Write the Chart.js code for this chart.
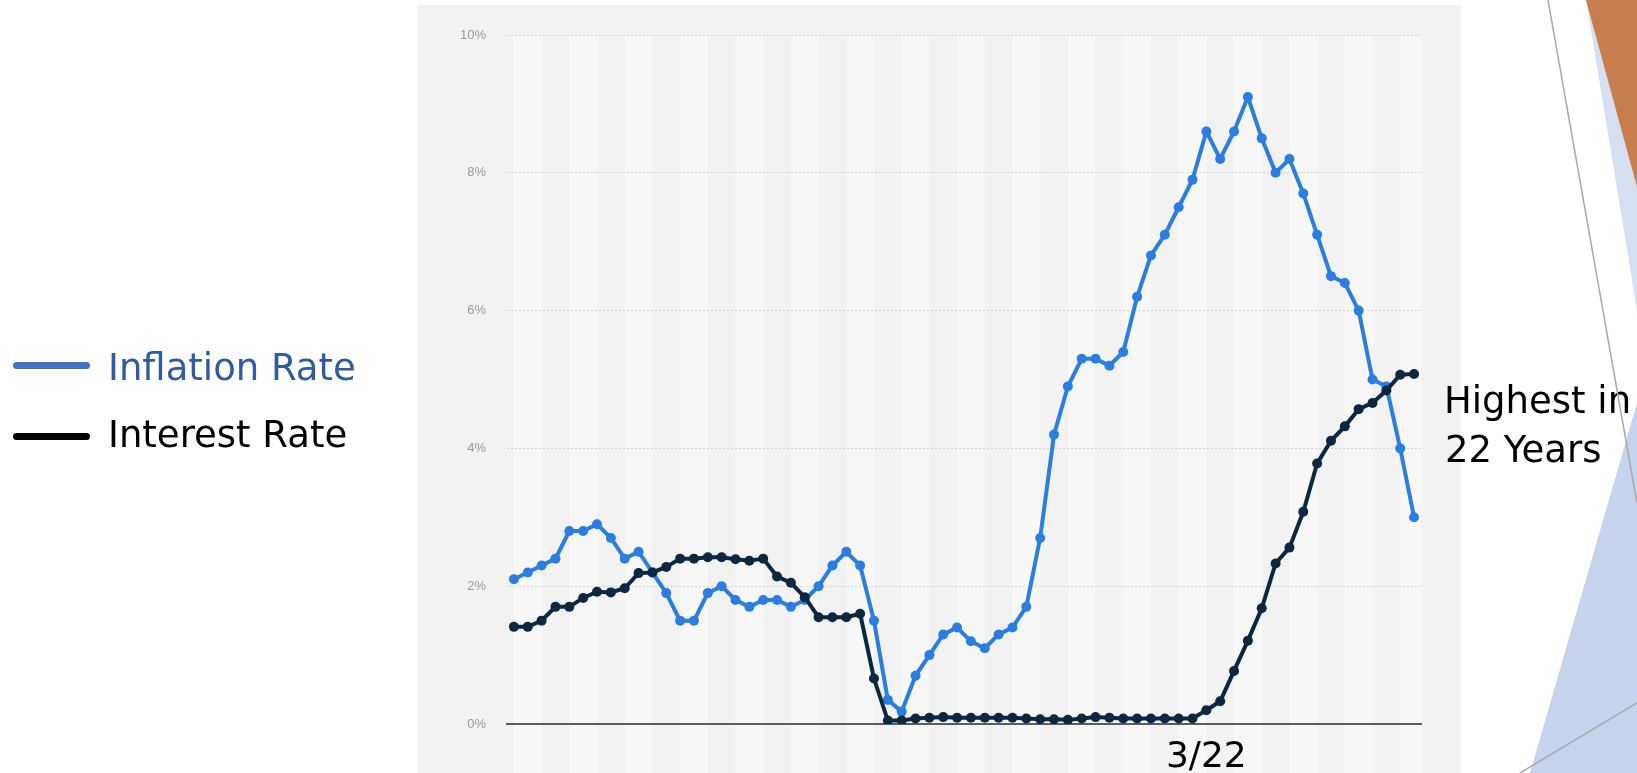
<!DOCTYPE html>
<html>
<head>
<meta charset="utf-8">
<script src="https://cdn.jsdelivr.net/npm/chart.js@4.4.0/dist/chart.umd.min.js"></script>
<style>
  html, body { margin: 0; padding: 0; background: #fff; }
  #slide { position: relative; width: 1637px; height: 773px; overflow: hidden; }
  #rates { position: absolute; left: 0; top: 0; }
  .label {
    position: absolute;
    font-family: 'DejaVu Sans', sans-serif;
    font-size: 37px;
    line-height: 37px;
    white-space: nowrap;
  }
  .swatch { position: absolute; left: 13px; width: 77px; height: 7px; border-radius: 4px; }
  #deco { position: absolute; left: 0; top: 0; }
</style>
</head>
<body>
<div id="slide">
  <canvas id="rates" width="1637" height="773"></canvas>

  <div class="swatch" style="top:362px; background:#4472c4;"></div>
  <div class="label" style="left:108px; top:349px; color:#2f5ba5;">Inflation Rate</div>
  <div class="swatch" style="top:433px; background:#000;"></div>
  <div class="label" style="left:108px; top:416px; color:#000;">Interest Rate</div>

  <div class="label" style="left:1444px; top:382px; color:#000;">Highest in</div>
  <div class="label" style="left:1445px; top:431px; color:#000;">22 Years</div>

  <svg id="deco" width="1637" height="773">
    <polygon points="1586,0 1637,0 1637,310" fill="#d6e0f2"/>
    <polygon points="1586,0 1637,0 1637,187" fill="#c87d4f"/>
    <polygon points="1637,403 1637,773 1530,773" fill="#c5d4ec"/>
    <line x1="1548" y1="0" x2="1637" y2="503" stroke="#a8a8a8" stroke-width="1.5"/>
    <line x1="1520" y1="773" x2="1637" y2="703" stroke="#a8a8a8" stroke-width="1.5"/>
  </svg>
</div>

<script>
// monthly, Jan 2018 - Jun 2023
const months = [
  '1/18', '2/18', '3/18', '4/18', '5/18', '6/18', '7/18', '8/18', '9/18', '10/18', '11/18', '12/18',
  '1/19', '2/19', '3/19', '4/19', '5/19', '6/19', '7/19', '8/19', '9/19', '10/19', '11/19', '12/19',
  '1/20', '2/20', '3/20', '4/20', '5/20', '6/20', '7/20', '8/20', '9/20', '10/20', '11/20', '12/20',
  '1/21', '2/21', '3/21', '4/21', '5/21', '6/21', '7/21', '8/21', '9/21', '10/21', '11/21', '12/21',
  '1/22', '2/22', '3/22', '4/22', '5/22', '6/22', '7/22', '8/22', '9/22', '10/22', '11/22', '12/22',
  '1/23', '2/23', '3/23', '4/23', '5/23', '6/23'
];

// only this month gets a label under the axis
const markedMonths = ['3/22'];

const inflationRate = [
  2.1, 2.2, 2.3, 2.4, 2.8, 2.8, 2.9, 2.7, 2.4, 2.5, 2.2, 1.9,
  1.5, 1.5, 1.9, 2.0, 1.8, 1.7, 1.8, 1.8, 1.7, 1.8, 2.0, 2.3,
  2.5, 2.3, 1.5, 0.35, 0.18, 0.7, 1.0, 1.3, 1.4, 1.2, 1.1, 1.3,
  1.4, 1.7, 2.7, 4.2, 4.9, 5.3, 5.3, 5.2, 5.4, 6.2, 6.8, 7.1,
  7.5, 7.9, 8.6, 8.2, 8.6, 9.1, 8.5, 8.0, 8.2, 7.7, 7.1, 6.5,
  6.4, 6.0, 5.0, 4.9, 4.0, 3.0
];

const interestRate = [
  1.41, 1.41, 1.50, 1.70, 1.70, 1.83, 1.92, 1.91, 1.97, 2.19, 2.20, 2.28,
  2.40, 2.40, 2.42, 2.42, 2.39, 2.37, 2.40, 2.14, 2.05, 1.84, 1.55, 1.55,
  1.55, 1.60, 0.66, 0.05, 0.05, 0.08, 0.09, 0.10, 0.09, 0.09, 0.09, 0.09,
  0.09, 0.08, 0.07, 0.07, 0.06, 0.08, 0.10, 0.09, 0.08, 0.08, 0.08, 0.08,
  0.08, 0.08, 0.20, 0.33, 0.77, 1.21, 1.68, 2.33, 2.56, 3.08, 3.78, 4.11,
  4.32, 4.57, 4.66, 4.84, 5.07, 5.08
];

const yTicks = [0, 2, 4, 6, 8, 10];

const slideFont = "'DejaVu Sans', sans-serif";

// grey panel behind the plot with light two-month bands
const backdrop = {
  id: 'backdrop',
  beforeDraw(chart) {
    const { ctx, chartArea, scales: { x, y } } = chart;
    ctx.save();
    ctx.fillStyle = '#f2f2f2';
    ctx.fillRect(chartArea.left - 90, chartArea.top - 30, chartArea.width + 130, chart.height);

    const top = y.getPixelForValue(yTicks[yTicks.length - 1]);
    ctx.fillStyle = '#f7f7f7';
    for (let i = 0; i < months.length; i += 4) {
      const x0 = x.getPixelForValue(i);
      const x1 = i + 2 < months.length ? x.getPixelForValue(i + 2) : chartArea.right;
      ctx.fillRect(x0, top, x1 - x0, chart.height - top);
    }
    ctx.restore();
  }
};

const chart = new Chart(document.getElementById('rates'), {
  type: 'line',
  data: {
    labels: months,
    datasets: [
      {
        label: 'Interest Rate',
        data: interestRate,
        borderColor: '#0c2742',
        backgroundColor: '#0c2742',
        order: 1
      },
      {
        label: 'Inflation Rate',
        data: inflationRate,
        borderColor: '#2a7de1',
        backgroundColor: '#2a7de1',
        order: 2
      }
    ]
  },
  options: {
    responsive: false,
    animation: false,
    layout: { padding: { left: 417, right: 216, top: 35, bottom: 0 } },
    elements: {
      line: { borderWidth: 4, tension: 0 },
      point: { radius: 5, hoverRadius: 5, borderWidth: 0 }
    },
    plugins: {
      legend: { display: false },
      tooltip: { enabled: false }
    },
    scales: {
      x: {
        offset: true,
        grid: { display: false },
        border: { display: true, color: '#5c5c5c', width: 2 },
        ticks: {
          autoSkip: false,
          maxRotation: 0,
          minRotation: 0,
          padding: 4,
          color: '#000',
          font: { family: slideFont, size: 36 },
          callback: (value, index) => markedMonths.includes(months[index]) ? months[index] : ''
        },
        afterFit: (scale) => { scale.height = 49; }
      },
      y: {
        min: yTicks[0],
        max: yTicks[yTicks.length - 1],
        grid: {
          color: (c) => c.tick.value === 0 ? 'rgba(0,0,0,0)' : '#d2d2d2',
          lineWidth: 1,
          drawTicks: false
        },
        border: { display: false, dash: [2, 2] },
        ticks: {
          stepSize: 2,
          padding: 21,
          color: '#9a9a9a',
          font: { family: 'Liberation Sans', size: 13 },
          callback: (v) => v + '%'
        },
        afterFit: (scale) => { scale.width = 90; }
      }
    }
  },
  plugins: [backdrop]
});
</script>
</body>
</html>
